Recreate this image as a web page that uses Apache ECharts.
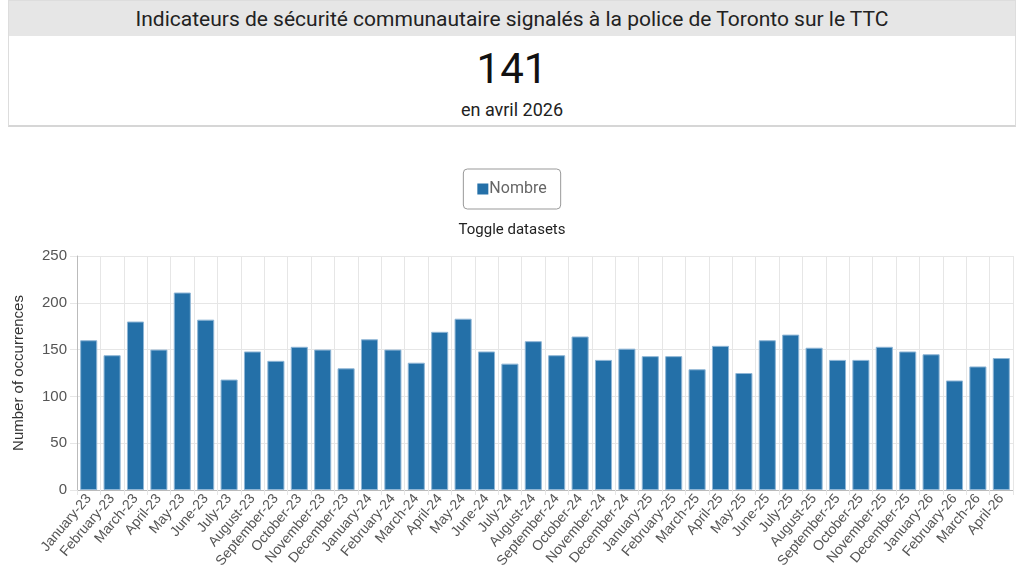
<!DOCTYPE html>
<html>
<head>
<meta charset="utf-8">
<script src="https://cdn.jsdelivr.net/npm/echarts@6/dist/echarts.min.js"></script>
<style>
  html, body { margin: 0; padding: 0; background: #fff; font-family: Roboto, "Noto Sans", sans-serif; }
  .card {
    position: absolute; left: 8px; top: 0; width: 1006px; height: 124px;
    border: 1px solid #ddd; border-bottom: 2px solid #d6d6d6; background: #fff;
  }
  .card .head {
    background: #e6e6e6; height: 35px; line-height: 36px; text-align: center;
    font-size: 21px; color: #222;
  }
  .card .big { text-align: center; font-size: 42px; color: #111; margin-top: 10px; line-height: 46px; }
  .card .sub { text-align: center; font-size: 18px; color: #222; margin-top: 7px; }
  #chart { position: absolute; left: 0; top: 127px; width: 1024px; height: 447px; }
</style>
</head>
<body>
<div class="card">
  <div class="head">Indicateurs de sécurité communautaire signalés à la police de Toronto sur le TTC</div>
  <div class="big" id="big"></div>
  <div class="sub" id="sub">en avril 2026</div>
</div>
<div id="chart"></div>
<script>
  // mois (Jan-23 .. Apr-26)
  var months = ['January-23', 'February-23', 'March-23', 'April-23', 'May-23', 'June-23', 'July-23', 'August-23',
    'September-23', 'October-23', 'November-23', 'December-23',
    'January-24', 'February-24', 'March-24', 'April-24', 'May-24', 'June-24', 'July-24', 'August-24',
    'September-24', 'October-24', 'November-24', 'December-24',
    'January-25', 'February-25', 'March-25', 'April-25', 'May-25', 'June-25', 'July-25', 'August-25',
    'September-25', 'October-25', 'November-25', 'December-25',
    'January-26', 'February-26', 'March-26', 'April-26'];
  var nombre = [160, 144, 180, 150, 211, 182, 118, 148, 138, 153, 150, 130,
    161, 150, 136, 169, 183, 148, 135, 159, 144, 164, 139, 151,
    143, 143, 129, 154, 125, 160, 166, 152, 139, 139, 153, 148,
    145, 117, 132, 141];
  var yTicks = [0, 50, 100, 150, 200, 250];

  document.getElementById('big').textContent = nombre[nombre.length - 1];

  var chart = echarts.init(document.getElementById('chart'));
  var gridColor = '#e6e6e6';
  var axisFont = '"Liberation Sans", Arial, sans-serif';

  chart.setOption({
    animation: false,
    textStyle: { fontFamily: 'Roboto' },
    legend: {
      top: 42,
      left: 'center',
      data: ['Nombre'],
      icon: 'rect',
      itemWidth: 11,
      itemHeight: 11,
      itemGap: 2,
      itemStyle: { borderWidth: 0 },
      padding: [12, 14, 12, 14],
      borderColor: '#999',
      borderWidth: 1,
      borderRadius: 4,
      textStyle: { color: '#666', fontSize: 16, padding: [0, 0, 0, -4] }
    },
    title: {
      text: 'Toggle datasets',
      left: 'center',
      top: 91,
      textStyle: { fontSize: 15, fontWeight: 'normal', color: '#222' }
    },
    grid: { left: 77, right: 11, top: 129, bottom: 84 },
    xAxis: {
      type: 'category',
      data: months,
      axisLine: { lineStyle: { color: '#bbb' } },
      axisTick: { show: true, length: 5, lineStyle: { color: gridColor } },
      splitLine: { show: true, lineStyle: { color: gridColor } },
      axisLabel: { rotate: 50, interval: 0, fontSize: 14, color: '#555', margin: 6, fontFamily: axisFont }
    },
    yAxis: {
      type: 'value',
      min: yTicks[0],
      max: yTicks[yTicks.length - 1],
      interval: yTicks[1] - yTicks[0],
      name: 'Number of occurrences',
      nameLocation: 'middle',
      nameGap: 51,
      nameTextStyle: { fontSize: 15, color: '#333', fontFamily: axisFont },
      axisLine: { show: true, lineStyle: { color: '#bbb' } },
      axisTick: { show: true, length: 7, lineStyle: { color: gridColor } },
      splitLine: { show: true, lineStyle: { color: gridColor } },
      axisLabel: { fontSize: 15, color: '#555', margin: 10, fontFamily: axisFont }
    },
    series: [{
      name: 'Nombre',
      type: 'bar',
      data: nombre,
      barCategoryGap: '27%',
      itemStyle: { color: '#2470a8', borderColor: '#8fb6d6', borderWidth: 1 }
    }]
  });
</script>
</body>
</html>
